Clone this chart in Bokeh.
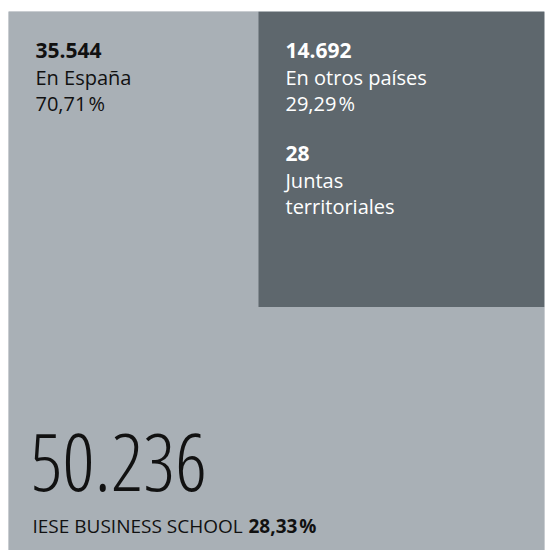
from bokeh.plotting import figure
from bokeh.embed import file_html
from bokeh.resources import INLINE
from bokeh.core.properties import value

# ---- data ----
total = 50236
total_label = "50.236"
spain_value = 35544
spain_label = "35.544"
spain_name = "En España"
spain_pct = "70,71\u200a%"
other_value = 14692
other_label = "14.692"
other_name = "En otros países"
other_pct = "29,29\u200a%"
juntas_label = "28"
juntas_name = ["Juntas", "territoriales"]
school_name = "IESE BUSINESS SCHOOL"
school_pct = "28,33\u200a%"

# ---- layout (pixel units) ----
FIG_W, FIG_H = 548, 550
LEFT, TOP, RIGHT = 8, 11, 4
PW, PH = FIG_W - LEFT - RIGHT, FIG_H - TOP   # plot area = treemap box
LIGHT = "#a9b0b6"
DARK = "#5e676d"

share_other = other_value / total
dark_w = 286
dark_h = share_other * PW * PH / dark_w

p = figure(width=FIG_W, height=FIG_H, output_backend="svg", toolbar_location=None,
           x_range=(0, PW), y_range=(0, PH),
           min_border_left=LEFT, min_border_right=RIGHT, min_border_top=TOP, min_border_bottom=0)
p.axis.visible = False
p.grid.visible = False
p.outline_line_color = None
p.border_fill_color = "white"
p.background_fill_color = LIGHT

# treemap rectangles
p.quad(left=[0], right=[PW], bottom=[0], top=[PH], fill_color=LIGHT, line_color=None)
p.quad(left=[PW - dark_w], right=[PW], bottom=[PH - dark_h], top=[PH],
       fill_color=DARK, line_color=None)

def txt(px, py, s, size, color, bold=False, font="Open Sans"):
    p.text(x=[px - LEFT], y=[PH - (py - TOP) + 0.31 * size], text=[s], text_font=value(font),
           text_font_size=f"{size}px", text_color=color,
           text_font_style="bold" if bold else "normal",
           text_baseline="alphabetic", text_align="left")

INK = "#111111"
# Spain block
bx = 35
txt(bx, 57, spain_label, 21, INK, bold=True)
txt(bx, 83, spain_name, 20, INK)
txt(bx, 109, spain_pct, 20, INK)

# Other countries block
ox = 285
txt(ox, 57, other_label, 21, "white", bold=True)
txt(ox, 83, other_name, 20, "white")
txt(ox, 109, other_pct, 20, "white")
txt(ox, 160, juntas_label, 21, "white", bold=True)
txt(ox, 186, juntas_name[0], 20, "white")
txt(ox, 212, juntas_name[1], 20, "white")

# Total
txt(30, 487, total_label, 80, INK, font="Open Sans Condensed Light")
txt(32, 531, school_name, 19, INK)
txt(248, 531, school_pct, 19, INK, bold=True)

open("out.html", "w").write(file_html(p, INLINE))
